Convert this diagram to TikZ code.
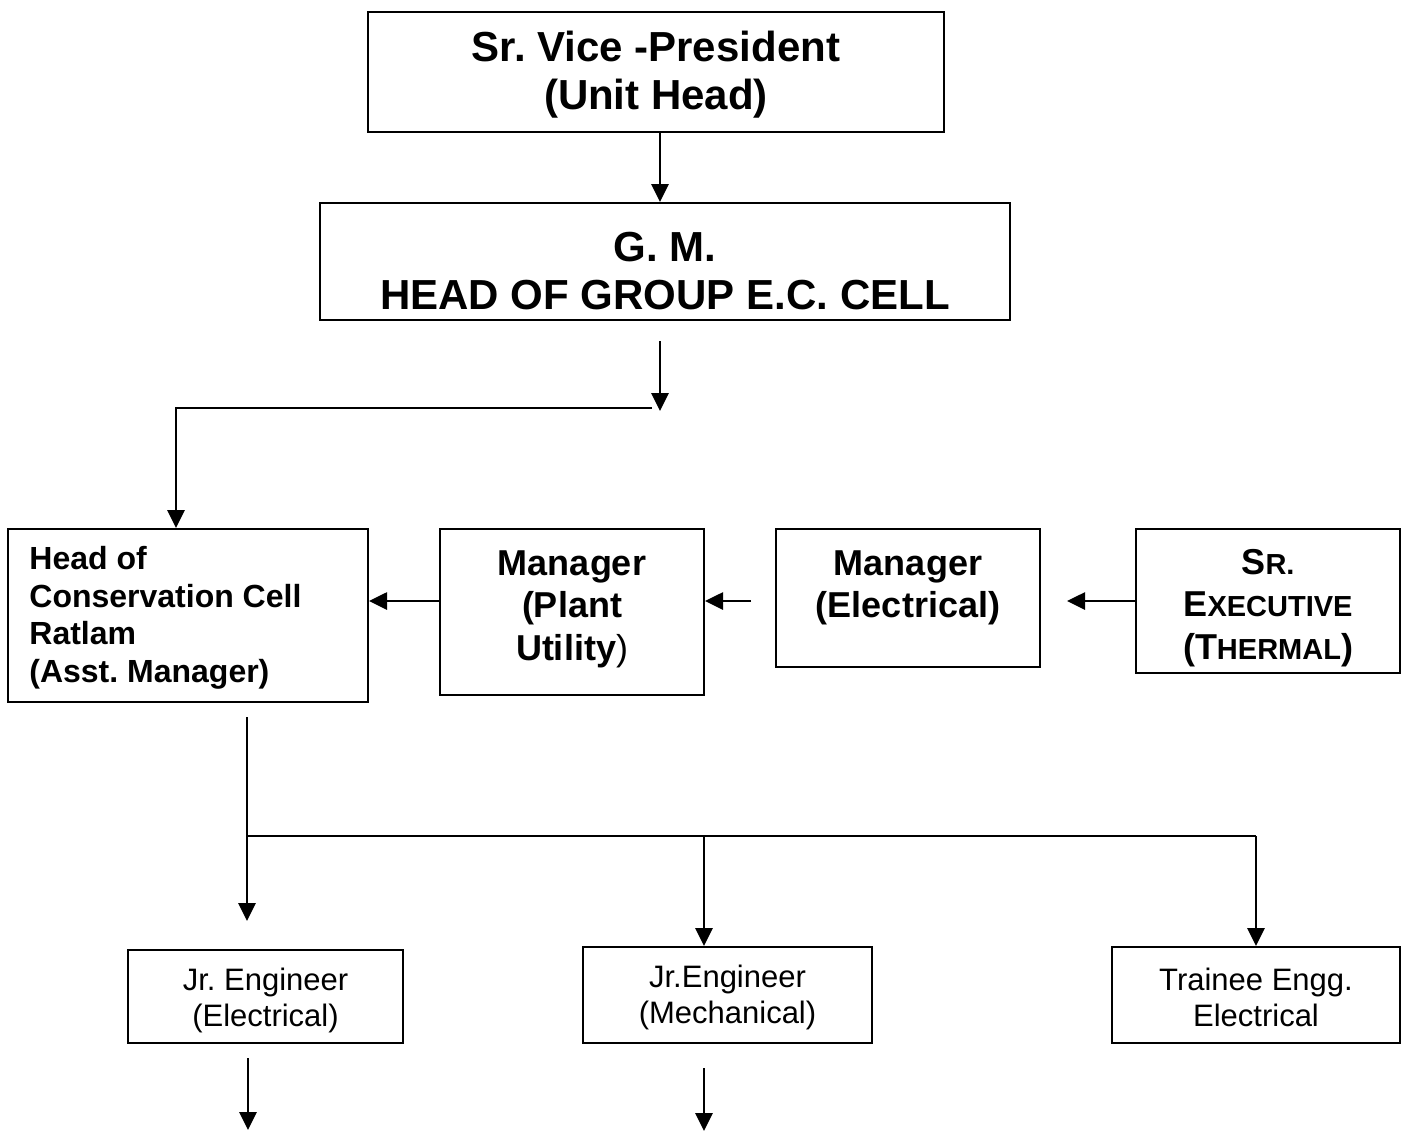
\documentclass[tikz,border=0pt]{standalone}
\usepackage{fontspec}
\setmainfont{Liberation Sans}
\usetikzlibrary{arrows.meta,calc}
\frenchspacing

\tikzset{
    box/.style={draw, line width=1pt, inner sep=0pt},
    arr/.style={line width=1.4pt, -{Triangle[length=9pt,width=8.5pt]}},
    bigtxt/.style={align=center, font=\fontsize{21}{24}\selectfont\bfseries},
    midtxt/.style={align=center, font=\fontsize{18}{21.25}\selectfont\bfseries},
    lowtxt/.style={align=center, font=\fontsize{15.5}{18}\selectfont}
}

\begin{document}
\begin{tikzpicture}[x=0.5pt, y=-0.5pt]
        % Page
        \useasboundingbox (0,0) rectangle (1406,1132);

        % Top boxes
        \node[box, minimum width=288pt, minimum height=60pt] (vp) at (656,72) {};
        \node[bigtxt] (vp-t) at (656,75) {Sr. Vice -President\\(Unit Head)};
        \node[box, minimum width=345pt, minimum height=58.5pt] (gm) at (665,261.5) {};
        \node[bigtxt] (gm-t) at (665,271) {G. M.\\HEAD OF GROUP E.C. CELL};

        % Middle row
        \node[box, minimum width=180pt, minimum height=86.5pt] (head) at (188,615.5) {};
        \node[align=left, anchor=west, inner sep=0pt, font=\fontsize{16}{18.75}\selectfont\bfseries] (head-t) at (29,618)
            {Head of\\Conservation Cell\\Ratlam\\(Asst. Manager)};
        \node[box, minimum width=132pt, minimum height=83pt] (plant) at (572,612) {};
        \node[midtxt] (plant-t) at (572,609) {Manager\\(Plant\\Utility{\mdseries)}};
        \node[box, minimum width=132pt, minimum height=69pt] (elec) at (908,598) {};
        \node[midtxt] (elec-t) at (908,588) {Manager\\(Electrical)};
        \node[box, minimum width=132pt, minimum height=72pt] (exec) at (1268,601) {};
        \node[midtxt] (exec-t) at (1268,608)
            {S{\fontsize{14.5}{14}\selectfont R.}\\E{\fontsize{14.5}{14}\selectfont XECUTIVE}\\(T{\fontsize{14.5}{14}\selectfont HERMAL})};

        % Bottom row
        \node[box, minimum width=137.5pt, minimum height=46.5pt] (jre) at (265.5,996.5) {};
        \node[lowtxt] (jre-t) at (265.5,1000) {Jr. Engineer\\(Electrical)};
        \node[box, minimum width=144.5pt, minimum height=48pt] (jrm) at (727.5,995) {};
        \node[lowtxt] (jrm-t) at (727.5,997) {Jr.Engineer\\(Mechanical)};
        \node[box, minimum width=144pt, minimum height=48pt] (tr) at (1256,995) {};
        \node[lowtxt] (tr-t) at (1256,997) {Trainee Engg.\\Electrical};

        % Turning points
        \coordinate (splitA) at (660,408);
        \coordinate (bendA) at (176,408);
        \coordinate (rowArr) at (0,601);
        \coordinate (splitB) at (247,836);
        \coordinate (dropM) at (704,836);
        \coordinate (dropT) at (1256,836);
        \coordinate (endE) at (248,1130);
        \coordinate (endM) at (704,1131);

        % Arrows
        \draw[arr] (vp.south -| splitA) -- (gm.north -| splitA);
        \draw[arr] ($(gm.south -| splitA)+(0,20)$) -- ($(splitA)+(0,3)$);
        \draw[arr] ($(splitA)+(-8,0)$) -- (bendA) -- (bendA |- head.north);
        \draw[arr] (plant.west |- rowArr) -- (head.east |- rowArr);
        \draw[arr] ($(elec.west |- rowArr)+(-24,0)$) -- (plant.east |- rowArr);
        \draw[arr] (exec.west |- rowArr) -- ($(elec.east |- rowArr)+(26,0)$);
        \draw[arr] ($(head.south -| splitB)+(0,14)$) -- ($(jre.north -| splitB)+(0,-28)$);
        \draw[line width=1.4pt] (splitB) -- (dropT);
        \draw[arr] (dropM) -- (jrm.north -| dropM);
        \draw[arr] (dropT) -- (tr.north);
        \draw[arr] ($(jre.south -| endE)+(0,14)$) -- (endE);
        \draw[arr] ($(jrm.south -| endM)+(0,24)$) -- (endM);
\end{tikzpicture}
\end{document}
